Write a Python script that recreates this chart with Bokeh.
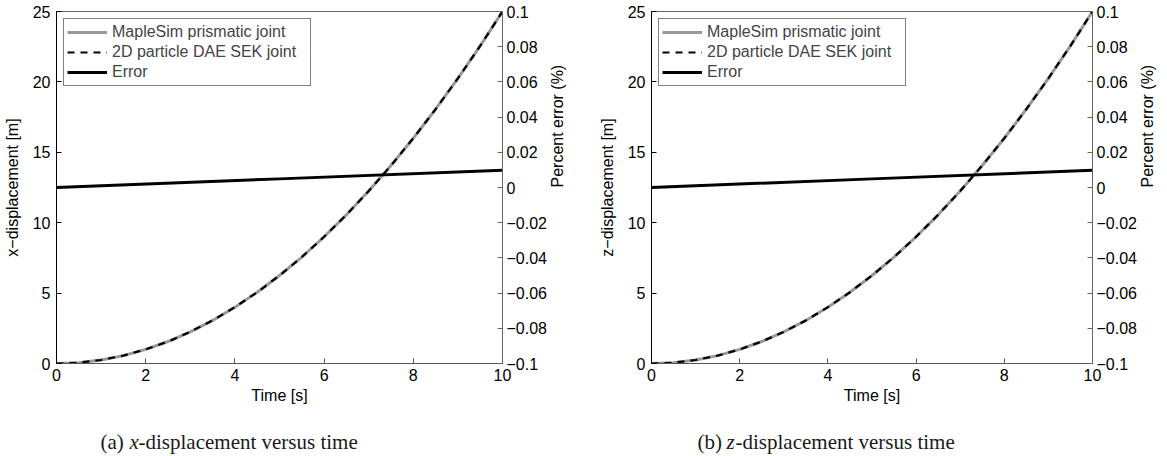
import math
from bokeh.plotting import figure
from bokeh.models import (Range1d, LinearAxis, FixedTicker, CustomJSTickFormatter,
                          Legend, LegendItem, Label)
from bokeh.layouts import row, column
from bokeh.embed import file_html
from bokeh.resources import INLINE

# ---- data ----
time = [0, 0.5, 1, 1.5, 2, 2.5, 3, 3.5, 4, 4.5, 5, 5.5, 6, 6.5, 7, 7.5, 8, 8.5, 9, 9.5, 10]
x_maplesim = [0, 0.06, 0.25, 0.56, 1.0, 1.56, 2.25, 3.06, 4.0, 5.06, 6.25, 7.56, 9.0,
              10.56, 12.25, 14.06, 16.0, 18.06, 20.25, 22.56, 25.0]
x_dae = [0, 0.06, 0.25, 0.56, 1.0, 1.56, 2.25, 3.06, 4.0, 5.06, 6.25, 7.56, 9.0,
         10.56, 12.25, 14.06, 16.0, 18.06, 20.25, 22.56, 25.0]
z_maplesim = [0, 0.06, 0.25, 0.56, 1.0, 1.56, 2.25, 3.06, 4.0, 5.06, 6.25, 7.56, 9.0,
              10.56, 12.25, 14.06, 16.0, 18.06, 20.25, 22.56, 25.0]
z_dae = [0, 0.06, 0.25, 0.56, 1.0, 1.56, 2.25, 3.06, 4.0, 5.06, 6.25, 7.56, 9.0,
         10.56, 12.25, 14.06, 16.0, 18.06, 20.25, 22.56, 25.0]
err_time = [0, 5, 10]
x_error = [0.0, 0.0049, 0.0098]
z_error = [0.0, 0.0049, 0.0098]

x_ticks = [0, 2, 4, 6, 8, 10]
left_ticks = [0, 5, 10, 15, 20, 25]
right_ticks = [-0.1, -0.08, -0.06, -0.04, -0.02, 0, 0.02, 0.04, 0.06, 0.08, 0.1]

series_names = ["MapleSim prismatic joint", "2D particle DAE SEK joint", "Error"]

FONT = "Liberation Sans"
FS = "16px"
PANEL_H = 412


def style_axis(ax, color):
    ax.axis_line_color = color
    ax.major_tick_line_color = color
    ax.minor_tick_line_color = None
    ax.major_tick_out = 0
    ax.major_tick_in = 5
    ax.major_label_text_font = FONT
    ax.major_label_text_font_size = FS
    ax.major_label_text_color = "black"
    ax.axis_label_text_font = FONT
    ax.axis_label_text_font_size = FS
    ax.axis_label_text_font_style = "normal"
    ax.axis_label_text_color = "black"


def make_panel(width, left, right, ylabel, maple, dae, err):
    p = figure(width=width, height=PANEL_H, output_backend="svg", toolbar_location=None,
               x_range=Range1d(0, 10), y_range=Range1d(0, 25),
               min_border_left=left, min_border_right=right,
               min_border_top=11, min_border_bottom=PANEL_H - 363)
    p.extra_y_ranges = {"err": Range1d(-0.1, 0.1)}
    p.grid.visible = False
    p.outline_line_color = "#666666"
    p.background_fill_color = "white"
    p.border_fill_color = "white"

    r1 = p.line(time, maple, line_color="#999999", line_width=3)
    r2 = p.line(time, dae, line_color="black", line_width=2.2, line_dash="7 6")
    r3 = p.line(err_time, err, line_color="black", line_width=3, y_range_name="err")

    xa = p.xaxis[0]
    xa.ticker = FixedTicker(ticks=x_ticks)
    xa.axis_label = "Time [s]"
    xa.major_label_standoff = 5
    xa.axis_label_standoff = 3
    style_axis(xa, "#555555")

    ya = p.yaxis[0]
    ya.ticker = FixedTicker(ticks=left_ticks)
    ya.axis_label = ylabel
    ya.major_label_standoff = 6
    ya.axis_label_standoff = 9
    style_axis(ya, "black")

    ra = LinearAxis(y_range_name="err", axis_label="Percent error (%)",
                    ticker=FixedTicker(ticks=right_ticks),
                    formatter=CustomJSTickFormatter(code="""
                        const v = Math.round(tick*100)/100;
                        if (v === 0) return "0";
                        return (v < 0 ? "\\u2212" : "") + Math.abs(v).toString();
                    """))
    ra.major_label_standoff = 4
    ra.axis_label_standoff = 8
    ra.axis_label_orientation = math.pi / 2
    style_axis(ra, "#666666")
    p.add_layout(ra, "right")

    legend = Legend(items=[LegendItem(label=series_names[0], renderers=[r1]),
                           LegendItem(label=series_names[1], renderers=[r2]),
                           LegendItem(label=series_names[2], renderers=[r3])],
                    location="top_left")
    legend.margin = 7
    legend.padding = 3
    legend.spacing = 0
    legend.label_height = 20
    legend.glyph_height = 20
    legend.glyph_width = 40
    legend.label_standoff = 5
    legend.label_width = 195
    legend.label_text_font = FONT
    legend.label_text_font_size = FS
    legend.border_line_color = "black"
    legend.border_line_width = 1
    legend.background_fill_alpha = 1
    p.add_layout(legend, "center")
    return p


pa = make_panel(580, 54, 78, "x\u2212displacement [m]", x_maplesim, x_dae, x_error)
pb = make_panel(587, 71, 73, "z\u2212displacement [m]", z_maplesim, z_dae, z_error)

# caption strip below both panels
cap = figure(width=1167, height=456 - PANEL_H, output_backend="svg", toolbar_location=None,
             x_range=Range1d(0, 1), y_range=Range1d(0, 1),
             min_border=0, min_border_left=0, min_border_right=0,
             min_border_top=0, min_border_bottom=0)
cap.axis.visible = False
cap.grid.visible = False
cap.outline_line_color = None
cap_kw = dict(x_units="screen", y_units="screen", y=15, text_baseline="alphabetic",
              text_font="Liberation Serif", text_font_size="21px", text_color="#1a1a1a")
captions = [("(a)", "x", 100), ("(b)", "z", 697)]
for tag, var, x0 in captions:
    cap.add_layout(Label(x=x0, text=tag, **cap_kw))
    cap.add_layout(Label(x=x0 + 29, text=var, text_font_style="italic", **cap_kw))
    cap.add_layout(Label(x=x0 + 38, text="-displacement versus time", **cap_kw))

layout = column(row(pa, pb, spacing=0), cap, spacing=0)
open("out.html", "w").write(file_html(layout, INLINE))
